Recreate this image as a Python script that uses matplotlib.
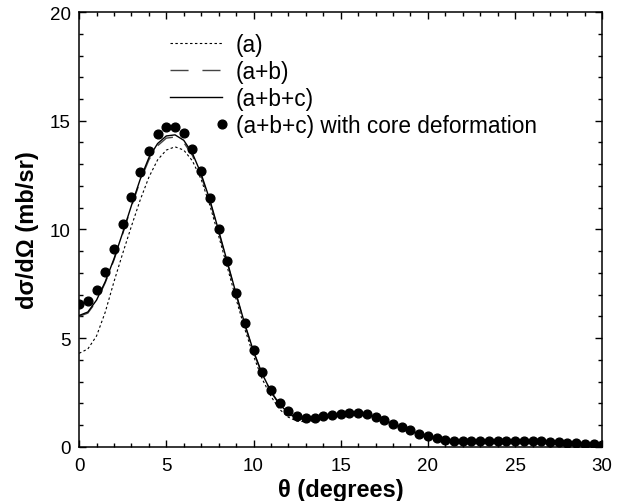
import numpy as np
import matplotlib
matplotlib.use("Agg")
import matplotlib.pyplot as plt
from matplotlib.legend_handler import HandlerLine2D
from matplotlib.ticker import MultipleLocator

plt.rcParams['font.family'] = ['Liberation Sans', 'DejaVu Sans']

# angles (degrees), 0.5 deg steps
theta = np.arange(0, 30.01, 0.5)

# (a+b+c) with core deformation (dots)
core_def = [6.55, 6.72, 7.22, 8.05, 9.08, 10.27, 11.50, 12.66, 13.62, 14.37,
            14.73, 14.73, 14.43, 13.69, 12.70, 11.45, 10.02, 8.55, 7.07, 5.69,
            4.46, 3.44, 2.63, 2.03, 1.65, 1.42, 1.33, 1.33, 1.40, 1.45,
            1.52, 1.54, 1.54, 1.50, 1.38, 1.22, 1.06, 0.90, 0.75, 0.61,
            0.49, 0.39, 0.32, 0.28, 0.26, 0.26, 0.26, 0.27, 0.28, 0.28,
            0.28, 0.27, 0.27, 0.25, 0.24, 0.22, 0.19, 0.17, 0.14, 0.12, 0.10]

# (a+b+c) solid
abc = [6.04, 6.20, 6.75, 7.60, 8.65, 9.85, 11.10, 12.30, 13.30, 13.95,
       14.30, 14.35, 14.10, 13.50, 12.55, 11.35, 9.95, 8.50, 7.05, 5.65,
       4.40, 3.35, 2.55, 1.95, 1.55, 1.33, 1.25, 1.27, 1.35, 1.42,
       1.48, 1.51, 1.51, 1.48, 1.39, 1.22, 1.05, 0.88, 0.73, 0.60,
       0.49, 0.39, 0.32, 0.28, 0.26, 0.26, 0.26, 0.27, 0.28, 0.28,
       0.28, 0.27, 0.27, 0.25, 0.24, 0.22, 0.19, 0.17, 0.14, 0.12, 0.10]

# (a+b) dashed
ab = [6.00, 6.15, 6.70, 7.55, 8.60, 9.80, 11.05, 12.22, 13.20, 13.85,
      14.20, 14.25, 14.00, 13.40, 12.45, 11.28, 9.88, 8.44, 7.00, 5.60,
      4.36, 3.32, 2.52, 1.92, 1.52, 1.30, 1.22, 1.25, 1.33, 1.41,
      1.47, 1.50, 1.50, 1.47, 1.38, 1.21, 1.04, 0.87, 0.72, 0.59,
      0.48, 0.38, 0.31, 0.27, 0.26, 0.26, 0.26, 0.27, 0.28, 0.28,
      0.28, 0.27, 0.27, 0.25, 0.24, 0.22, 0.19, 0.17, 0.14, 0.12, 0.10]

# (a) dotted
a_only = [4.30, 4.50, 5.10, 6.20, 7.60, 8.90, 10.15, 11.35, 12.40, 13.20,
          13.65, 13.80, 13.65, 13.15, 12.30, 11.10, 9.70, 8.25, 6.80, 5.42,
          4.18, 3.12, 2.32, 1.72, 1.36, 1.18, 1.15, 1.20, 1.30, 1.38,
          1.45, 1.48, 1.48, 1.45, 1.36, 1.20, 1.03, 0.86, 0.71, 0.58,
          0.47, 0.37, 0.30, 0.27, 0.25, 0.25, 0.25, 0.26, 0.27, 0.27,
          0.27, 0.26, 0.26, 0.24, 0.23, 0.21, 0.18, 0.16, 0.13, 0.11, 0.09]


class RightDot(HandlerLine2D):
    # single legend marker sits at the right end of the handle
    def get_xdata(self, legend, xdescent, ydescent, width, height, fontsize):
        xr = -xdescent + width
        return np.array([xr, xr]), np.array([xr])


fig = plt.figure(figsize=(6.28, 5.02), dpi=100)
ax = fig.add_axes([0.126, 0.108, 0.833, 0.866])

ax.plot(theta, a_only, color='black', lw=0.8, dashes=(2.2, 2.2), label='(a)')
ax.plot(theta, ab, color='#444444', lw=1.0, dashes=(13, 10), label='(a+b)')
ax.plot(theta, abc, color='black', lw=1.0, label='(a+b+c)')
dots, = ax.plot(theta, core_def, 'o', color='black', ms=6.3,
                label='(a+b+c) with core deformation')

ax.set_xlim(0, 30)
ax.set_ylim(0, 20)
ax.xaxis.set_major_locator(MultipleLocator(5))
ax.xaxis.set_minor_locator(MultipleLocator(1))
ax.yaxis.set_major_locator(MultipleLocator(5))
ax.yaxis.set_minor_locator(MultipleLocator(1))
ax.tick_params(which='both', direction='in', top=True, right=True, width=1)
ax.tick_params(which='major', length=5, labelsize=13.5)
ax.tick_params(axis='x', which='major', pad=7)
ax.tick_params(axis='y', which='major', pad=6)
ax.tick_params(which='minor', length=3)
for s in ax.spines.values():
    s.set_linewidth(1.1)

ax.set_xlabel('θ (degrees)', fontsize=17, fontweight='bold', labelpad=3)
ax.set_ylabel('dσ/dΩ (mb/sr)', fontsize=17, fontweight='bold', labelpad=8)

ax.legend(frameon=False, loc='upper left', bbox_to_anchor=(0.174, 0.952),
          fontsize=16.3, handlelength=2.3, handletextpad=0.6, labelspacing=0.18,
          borderpad=0, borderaxespad=0, numpoints=1,
          handler_map={dots: RightDot()})

fig.savefig('out.png', dpi=100)
